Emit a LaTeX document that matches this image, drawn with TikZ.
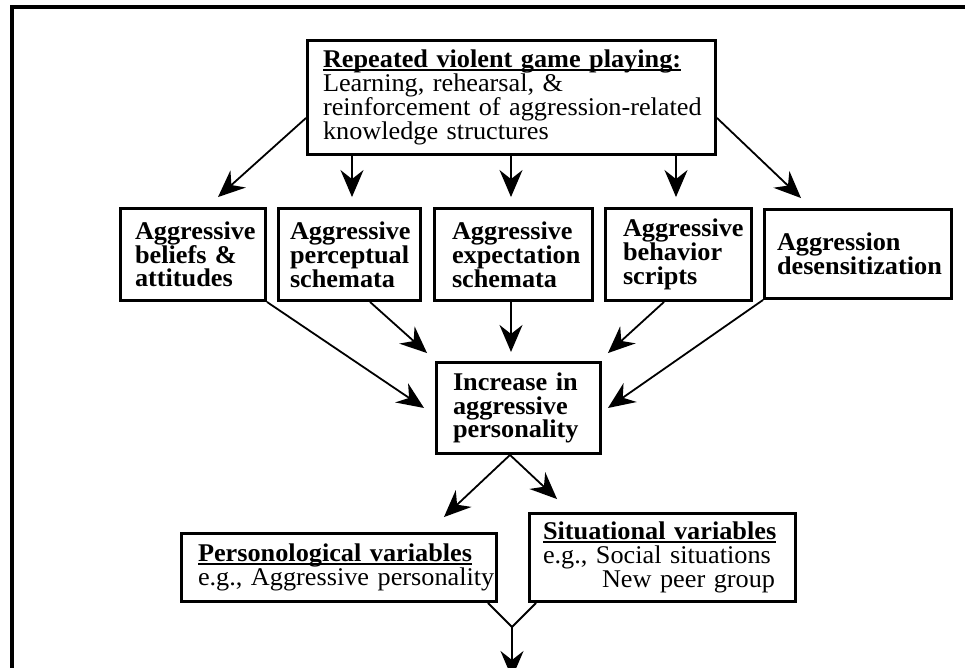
\documentclass[tikz,border=0pt]{standalone}
\usepackage{fontspec}
\setmainfont{Liberation Serif}[FakeStretch=1.03]
\usetikzlibrary{arrows.meta,calc}
\newcommand\myul[1]{\sbox0{#1}\rlap{\rule[-3pt]{\wd0}{1.6pt}}\usebox0}
\begin{document}
\begin{tikzpicture}[x=1pt,y=-1pt,
  box/.style={draw,line width=3.4pt,inner ysep=0pt,align=left,
    font=\fontsize{25.5}{23.8}\selectfont},
  bbox/.style={box,font=\fontsize{25.5}{23.8}\selectfont\bfseries},
  arr/.style={line width=1.8pt,-{Stealth[length=27pt,width=23pt,inset=9pt]}},
  conn/.style={line width=1.8pt}]
\useasboundingbox (0,0) rectangle (965,668);
\clip (0,0) rectangle (965,668);
% outer frame (cropped)
\draw[line width=4.5pt] (12,700) -- (12,7) -- (990,7);
% nodes
\node[box,minimum width=407.5pt,minimum height=113.5pt,text width=377pt,inner xsep=15.25pt] (top) at (511.5,97.5)
 {\myul{\textbf{Repeated violent game playing:}}\\\mbox{Learning, rehearsal, \&}\\\mbox{reinforcement of aggression-related}\\\mbox{knowledge structures}};
\node[bbox,minimum width=144.5pt,minimum height=91.5pt,text width=116pt,inner xsep=14.25pt] (b1) at (193,254.5)
 {\mbox{Aggressive}\\\mbox{beliefs \&}\\\mbox{attitudes}};
\node[bbox,minimum width=141.5pt,minimum height=91.5pt,text width=119pt,inner xsep=11.25pt] (b2) at (349.5,254.5)
 {\mbox{Aggressive}\\\mbox{perceptual}\\\mbox{schemata}};
\node[bbox,minimum width=157.5pt,minimum height=91.5pt,text width=123pt,inner xsep=17.25pt] (b3) at (513.5,254.5)
 {\mbox{Aggressive}\\\mbox{expectation}\\\mbox{schemata}};
\node[bbox,minimum width=145.5pt,minimum height=91.5pt,text width=111pt,inner xsep=17.25pt] (b4) at (678.5,254.5)
 {\mbox{Aggressive}\\\mbox{behavior}\\\mbox{scripts}};
\node[bbox,minimum width=186.5pt,minimum height=88.5pt,text width=162pt,inner xsep=12.25pt] (b5) at (858,254)
 {\mbox{Aggression}\\\mbox{desensitization}};
\node[bbox,minimum width=163.5pt,minimum height=90.5pt,text width=131pt,inner xsep=16.25pt] (ctr) at (518.5,408)
 {\mbox{Increase in}\\\mbox{aggressive}\\\mbox{personality}};
\node[box,minimum width=314.5pt,minimum height=67.5pt,text width=282pt,inner xsep=16.25pt] (pers) at (339,567.5)
 {\myul{\textbf{Personological variables}}\\\mbox{e.g., Aggressive personality}};
\node[box,minimum width=265.5pt,minimum height=87.5pt,text width=239pt,inner xsep=13.25pt] (sit) at (662.5,557.5)
 {\myul{\textbf{Situational variables}}\\\mbox{e.g., Social situations}\\\mbox{\hspace*{59pt}New peer group}};
\coordinate (merge) at (512,627);
\coordinate (out) at (512,678);
% arrows top -> middle row
\draw[arr] ($(top.south west)+(0,-38)$) -- ($(b1.north)+(25,-10)$);
\draw[arr] ($(b2.north|-top.south)+(2.5,0)$) -- ($(b2.north)+(2.5,-10)$);
\draw[arr] ($(b3.north|-top.south)+(-2.5,0)$) -- ($(b3.north)+(-2.5,-10)$);
\draw[arr] ($(b4.north|-top.south)+(-2.5,0)$) -- ($(b4.north)+(-2.5,-10)$);
\draw[arr] ($(top.south east)+(0,-38)$) -- ($(b5.north)+(-57,-10)$);
% middle row -> center
\draw[arr] (b1.south east) -- ($(ctr.west)+(-11,0)$);
\draw[arr] ($(b2.south)+(20.5,0)$) -- ($(ctr.north west)+(-8,-8)$);
\draw[arr] ($(b3.south)+(-2.5,0)$) -- ($(b3.south)+(-2.5,50)$);
\draw[arr] ($(b4.south)+(-14.5,0)$) -- ($(ctr.north east)+(6,-8)$);
\draw[arr] (b5.south west) -- ($(ctr.east)+(6,0)$);
% center -> variables
\draw[arr] ($(ctr.south)+(-8.5,0)$) -- ($(pers.north east)+(-54,-15)$);
\draw[arr] ($(ctr.south)+(-8.5,0)$) -- ($(sit.north west)+(29,-13)$);
% variables -> merge -> out
\draw[conn] ($(pers.south east)+(-10,0)$) -- (merge);
\draw[conn] ($(sit.south west)+(8,0)$) -- (merge);
\draw[arr] (merge) -- (out);
\end{tikzpicture}
\end{document}
